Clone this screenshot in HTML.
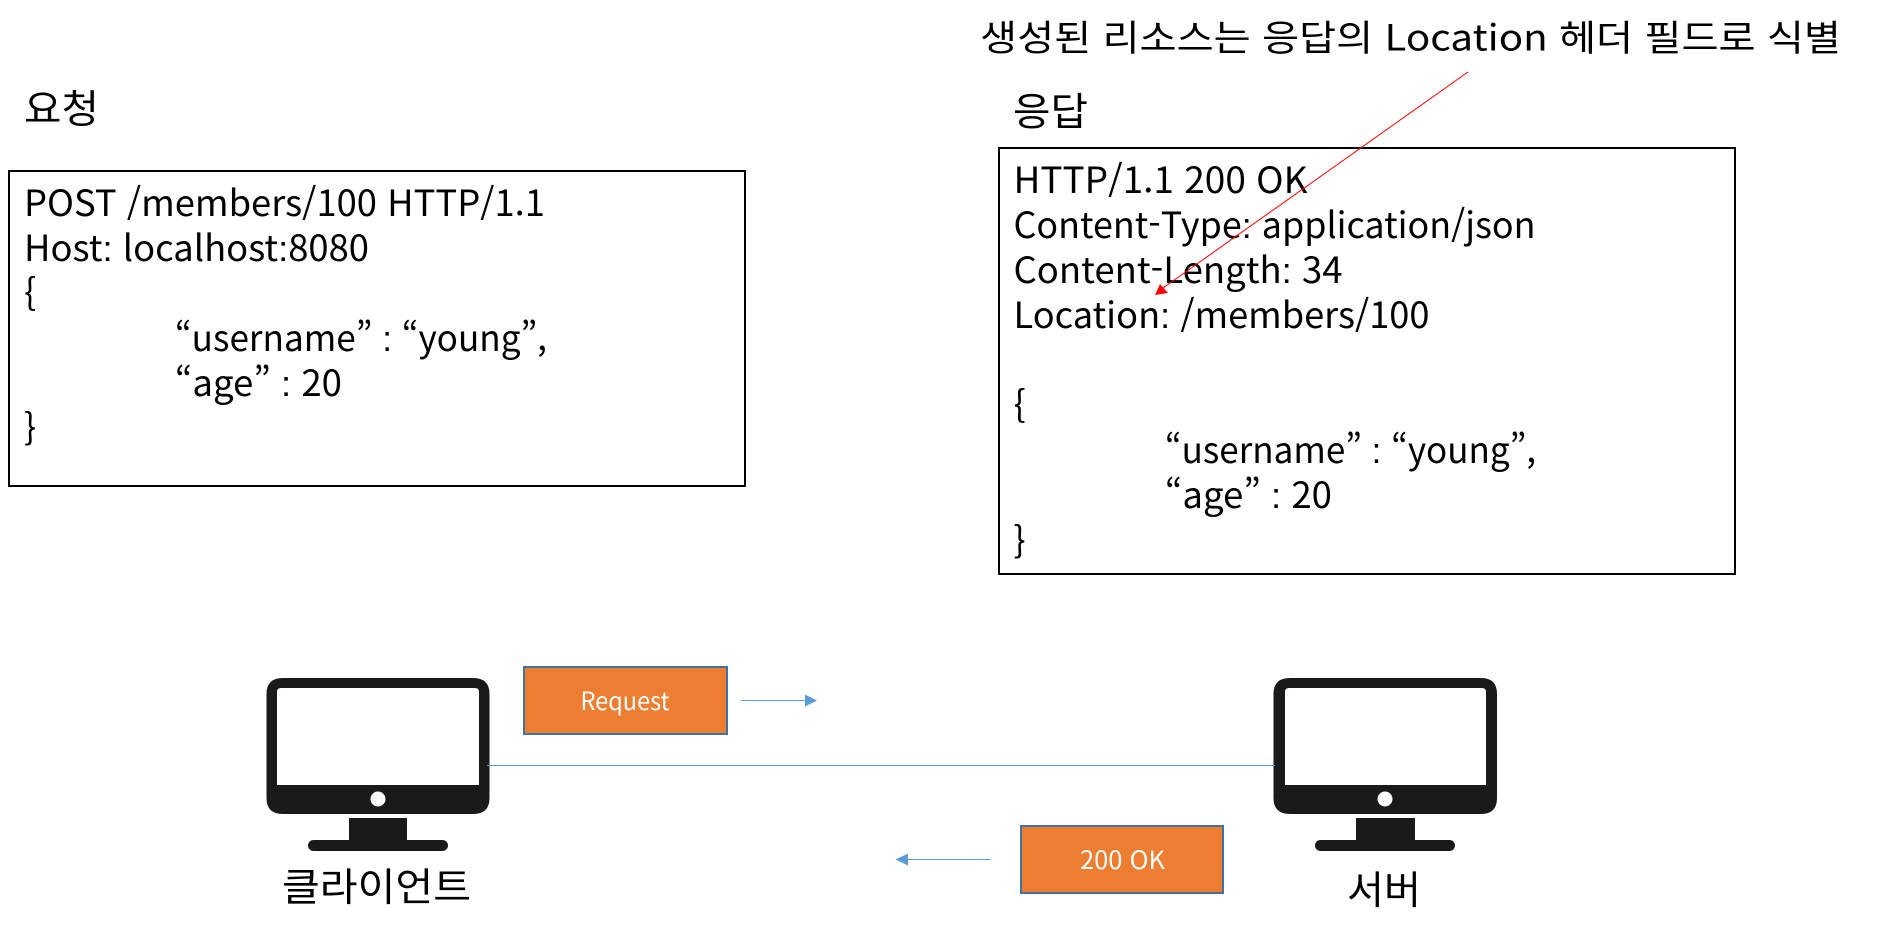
<!DOCTYPE html>
<html lang="ko"><head><meta charset="utf-8"><title>POST response diagram</title>
<style>html,body{margin:0;padding:0;background:#fff}svg{display:block}
text{font-family:"Noto Sans CJK KR","Liberation Sans",sans-serif;font-size:36px;fill:#000;white-space:pre;font-feature-settings:"calt" 0;font-variant-ligatures:no-contextual}
.k{font-size:39px}.w{fill:#fff;font-size:25px}
.c{font-family:"Liberation Sans",sans-serif}</style></head>
<body>
<svg width="1880" height="935" viewBox="0 0 1880 935" xmlns="http://www.w3.org/2000/svg">
<rect width="1880" height="935" fill="#fff"/>
<text x="1013" y="125.5" textLength="75" lengthAdjust="spacingAndGlyphs" class="k">응답</text>
<text x="24" y="123" textLength="75" lengthAdjust="spacingAndGlyphs" class="k">요청</text>
<text x="980" y="50.5" textLength="861" lengthAdjust="spacingAndGlyphs">생성된 리소스는 응답의 Location 헤더 필드로 식별</text>

<rect x="9" y="171" width="736" height="315" fill="#fff" stroke="#000" stroke-width="2"/>
<text x="24" y="216" textLength="521" lengthAdjust="spacingAndGlyphs">POST /members/100 HTTP/1.1</text>
<text x="24" y="261" textLength="345" lengthAdjust="spacingAndGlyphs">Host<tspan class="c">:</tspan> localhost<tspan class="c">:</tspan>8080</text>
<text x="24" y="307">{</text>
<text x="175" y="351" textLength="372" lengthAdjust="spacingAndGlyphs">“username” <tspan class="c">:</tspan> “young”,</text>
<text x="175" y="396" textLength="167" lengthAdjust="spacingAndGlyphs">“age” <tspan class="c">:</tspan> 20</text>
<text x="24" y="442">}</text>

<rect x="999" y="148" width="736" height="426" fill="#fff" stroke="#000" stroke-width="2"/>
<text x="1013.5" y="193" textLength="294" lengthAdjust="spacingAndGlyphs">HTTP/1.1 200 OK</text>
<text x="1013.5" y="238" textLength="522" lengthAdjust="spacingAndGlyphs">Content-Type<tspan class="c">:</tspan> application/json</text>
<text x="1013.5" y="283" textLength="329" lengthAdjust="spacingAndGlyphs">Content-Length<tspan class="c">:</tspan> 34</text>
<text x="1013.5" y="328" textLength="416" lengthAdjust="spacingAndGlyphs">Location<tspan class="c">:</tspan> /members/100</text>
<text x="1013.5" y="419">{</text>
<text x="1165" y="463" textLength="371" lengthAdjust="spacingAndGlyphs">“username” <tspan class="c">:</tspan> “young”,</text>
<text x="1165" y="508" textLength="167" lengthAdjust="spacingAndGlyphs">“age” <tspan class="c">:</tspan> 20</text>
<text x="1013.5" y="555">}</text>

<line x1="1468" y1="72" x2="1163" y2="288" stroke="#ff0000" stroke-width="1"/>
<polygon points="1155,295 1160,284 1168,293" fill="#ff0000"/>

<g id="client" fill="#1a1a1a">
<path fill-rule="evenodd" d="M283 678H473Q489.5 678 489.5 694V798Q489.5 814 473 814H283Q266.5 814 266.5 798V694Q266.5 678 283 678ZM281 688Q277 688 277 692V785H479V692Q479 688 475 688Z"/>
<rect x="349" y="818" width="58" height="24"/>
<rect x="308" y="840" width="140" height="11" rx="5.5"/>
</g>
<circle cx="378" cy="799" r="7.5" fill="#fff"/>

<g id="server" fill="#1a1a1a">
<path fill-rule="evenodd" d="M1290 678H1481Q1497 678 1497 694V798Q1497 814 1481 814H1290Q1273.5 814 1273.5 798V694Q1273.5 678 1290 678ZM1289 688Q1285 688 1285 692V785H1486V692Q1486 688 1482 688Z"/>
<rect x="1356" y="818" width="59" height="24"/>
<rect x="1315" y="840" width="140" height="11" rx="5.5"/>
</g>
<circle cx="1385" cy="799" r="7.5" fill="#fff"/>

<line x1="487" y1="765.5" x2="1275" y2="765.5" stroke="#5b9bd5" stroke-width="1"/>

<rect x="524" y="667" width="203" height="67" fill="#ed7d31" stroke="#41719c" stroke-width="2"/>
<text x="580.5" y="710" textLength="89" lengthAdjust="spacingAndGlyphs" class="w">Request</text>
<line x1="741" y1="700.5" x2="806" y2="700.5" stroke="#5b9bd5" stroke-width="1"/>
<polygon points="817,700.5 805,694.5 805,706.5" fill="#5b9bd5"/>

<rect x="1021" y="826" width="202" height="67" fill="#ed7d31" stroke="#41719c" stroke-width="2"/>
<text x="1080" y="869" textLength="85" lengthAdjust="spacingAndGlyphs" class="w">200 OK</text>
<line x1="907" y1="859.5" x2="990.5" y2="859.5" stroke="#5b9bd5" stroke-width="1"/>
<polygon points="895.5,859.5 908,853.5 908,865.5" fill="#5b9bd5"/>

<text x="282" y="901" textLength="189" lengthAdjust="spacingAndGlyphs" class="k">클라이언트</text>
<text x="1347" y="904" textLength="74" lengthAdjust="spacingAndGlyphs" class="k">서버</text>
</svg>
</body></html>
